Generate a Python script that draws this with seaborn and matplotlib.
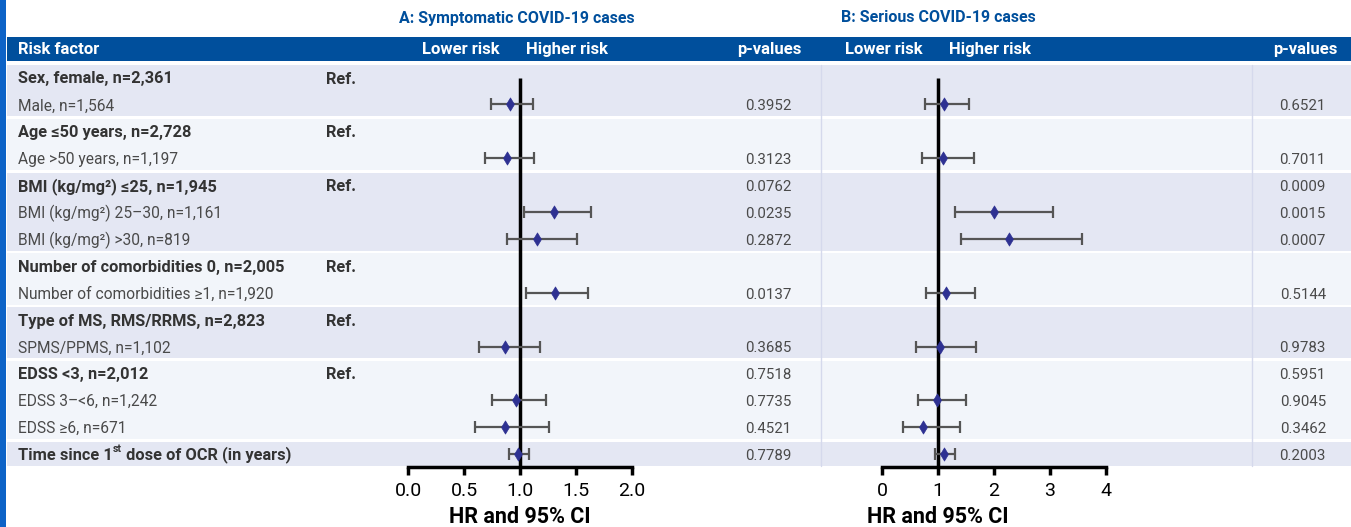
import numpy as np
import pandas as pd
import matplotlib.pyplot as plt
import seaborn as sns
from matplotlib.patches import Rectangle

sns.set_theme(style='white')
plt.rcParams['font.family'] = ['Roboto', 'DejaVu Sans']

# ---- data -------------------------------------------------------------
labels = ['Sex, female, n=2,361', 'Male, n=1,564',
          'Age \u226450 years, n=2,728', 'Age >50 years, n=1,197',
          'BMI (kg/mg\u00b2) \u226425, n=1,945', 'BMI (kg/mg\u00b2) 25\u201330, n=1,161',
          'BMI (kg/mg\u00b2) >30, n=819',
          'Number of comorbidities 0, n=2,005', 'Number of comorbidities \u22651, n=1,920',
          'Type of MS, RMS/RRMS, n=2,823', 'SPMS/PPMS, n=1,102',
          'EDSS <3, n=2,012', 'EDSS 3\u2013<6, n=1,242', 'EDSS \u22656, n=671',
          'Time since 1|st| dose of OCR (in years)']
bold = [1, 0, 1, 0, 1, 0, 0, 1, 0, 1, 0, 1, 0, 0, 1]
is_ref = [1, 0, 1, 0, 1, 0, 0, 1, 0, 1, 0, 1, 0, 0, 0]
group = [0, 0, 1, 1, 2, 2, 2, 3, 3, 4, 4, 5, 5, 5, 6]

nan = np.nan
hr_a = [nan, 0.91, nan, 0.88, nan, 1.30, 1.15, nan, 1.31, nan, 0.87, nan, 0.96, 0.87, 0.985]
lo_a = [nan, 0.74, nan, 0.69, nan, 1.04, 0.88, nan, 1.05, nan, 0.63, nan, 0.75, 0.60, 0.90]
hi_a = [nan, 1.12, nan, 1.125, nan, 1.63, 1.51, nan, 1.61, nan, 1.18, nan, 1.23, 1.26, 1.08]
p_a = ['', '0.3952', '', '0.3123', '0.0762', '0.0235', '0.2872', '', '0.0137', '',
       '0.3685', '0.7518', '0.7735', '0.4521', '0.7789']

hr_b = [nan, 1.11, nan, 1.09, nan, 2.00, 2.26, nan, 1.14, nan, 1.04, nan, 0.98, 0.73, 1.11]
lo_b = [nan, 0.76, nan, 0.71, nan, 1.30, 1.41, nan, 0.79, nan, 0.60, nan, 0.64, 0.37, 0.95]
hi_b = [nan, 1.55, nan, 1.64, nan, 3.05, 3.58, nan, 1.66, nan, 1.68, nan, 1.50, 1.39, 1.30]
p_b = ['', '0.6521', '', '0.7011', '0.0009', '0.0015', '0.0007', '', '0.5144', '',
       '0.9783', '0.5951', '0.9045', '0.3462', '0.2003']

ticks_a = [0.0, 0.5, 1.0, 1.5, 2.0]
ticks_b = [0, 1, 2, 3, 4]

# ---- layout (pixel coordinates) ---------------------------------------
W, H = 1351, 527
row_y = 77.5 + 26.9 * np.arange(len(labels))
axis_y = 467
NAVY = '#004f9c'

fig = plt.figure(figsize=(W / 100, H / 100), dpi=100)
bg = fig.add_axes([0, 0, 1, 1])
bg.set_xlim(0, W)
bg.set_ylim(H, 0)
bg.axis('off')

# left strip + header band
bg.add_patch(Rectangle((0, 0), 6, H, color='#0d63c7', lw=0))
bg.add_patch(Rectangle((7, 37), W - 7, 24, color=NAVY, lw=0))

# group backgrounds
for g in sorted(set(group)):
    idx = [i for i, gg in enumerate(group) if gg == g]
    top = row_y[idx[0]] - 12.5
    bot = row_y[idx[-1]] + 11.8
    col = '#e4e7f3' if g % 2 == 0 else '#f2f5fa'
    bg.add_patch(Rectangle((7, top), W - 7, bot - top, color=col, lw=0))
for xs in (821, 1252):
    bg.plot([xs, xs], [row_y[0] - 12.5, row_y[-1] + 11.8], color='#d5d9ec', lw=1)

# titles and header
bg.text(517, 18, 'A: Symptomatic COVID-19 cases', color=NAVY, fontsize=11.5,
        fontweight='bold', ha='center', va='center')
bg.text(938, 18, 'B: Serious COVID-19 cases', color=NAVY, fontsize=11.5,
        fontweight='bold', ha='center', va='center')
hdr = dict(color='white', fontsize=12, fontweight='bold', va='center')
bg.text(18, 49.5, 'Risk factor', ha='left', **hdr)
bg.text(500, 49.5, 'Lower risk', ha='right', **hdr)
bg.text(526, 49.5, 'Higher risk', ha='left', **hdr)
bg.text(801, 49.5, 'p-values', ha='right', **hdr)
bg.text(923, 49.5, 'Lower risk', ha='right', **hdr)
bg.text(949, 49.5, 'Higher risk', ha='left', **hdr)
bg.text(1337, 49.5, 'p-values', ha='right', **hdr)

# row labels
for i, lab in enumerate(labels):
    w = 'bold' if bold[i] else 'normal'
    c = '#333333' if bold[i] else '#4a4a4a'
    fs = 11.8 if bold[i] else 11.2
    if '|' in lab:
        a, sup, b = lab.split('|')
        t1 = bg.text(18, row_y[i] + 6, a, fontsize=fs, fontweight=w, color=c,
                     ha='left', va='baseline')
        t2 = bg.annotate(sup, xy=(1, 0.62), xycoords=t1, fontsize=7.5, fontweight=w,
                         color=c, ha='left', va='bottom')
        bg.annotate(b, xy=(1, 0), xycoords=(t2, t1), fontsize=fs, fontweight=w,
                    color=c, ha='left', va='bottom')
    else:
        bg.text(18, row_y[i] + 6, lab, fontsize=fs, fontweight=w, color=c,
                ha='left', va='baseline')
    if is_ref[i]:
        bg.text(326, row_y[i] + 6, 'Ref.', fontsize=11.8, fontweight='bold',
                color='#333333', ha='left', va='baseline')
    bg.text(791, row_y[i] + 6, p_a[i], fontsize=10.8, color='#4a4a4a',
            ha='right', va='baseline')
    bg.text(1326, row_y[i] + 6, p_b[i], fontsize=10.8, color='#4a4a4a',
            ha='right', va='baseline')


def forest(left_px, right_px, hr, lo, hi, ticks, ticklabels, label_x):
    ax = fig.add_axes([left_px / W, (H - axis_y) / H,
                       (right_px - left_px) / W, (axis_y - 65) / H])
    ax.patch.set_alpha(0)
    df = pd.DataFrame({'hr': hr, 'lo': lo, 'hi': hi, 'y': row_y}).dropna()
    ax.vlines(1, row_y[0], axis_y, color='black', lw=2.5, zorder=2)
    ax.errorbar(df['hr'], df['y'], xerr=[df['hr'] - df['lo'], df['hi'] - df['hr']],
                fmt='none', ecolor='#555555', elinewidth=1.6, capsize=4.5,
                capthick=1.6, zorder=3)
    sns.scatterplot(data=df, x='hr', y='y', marker='d', s=45, color='#2e3192',
                    edgecolor='#2e3192', linewidth=0.5, zorder=4, ax=ax)
    ax.set_xlim(ticks[0], ticks[-1])
    ax.set_ylim(axis_y, 65)
    ax.set_xticks(ticks)
    ax.set_xticklabels(ticklabels)
    ax.set_yticks([])
    ax.set_ylabel('')
    for s in ('top', 'left', 'right'):
        ax.spines[s].set_visible(False)
    ax.spines['bottom'].set_linewidth(2.5)
    ax.spines['bottom'].set_color('black')
    ax.spines['bottom'].set_capstyle('projecting')
    ax.tick_params(axis='x', direction='out', length=6, width=2.5, pad=5,
                   labelsize=14, colors='black', bottom=True)
    ax.set_xlabel('HR and 95% CI', fontsize=15.5, fontweight='bold', color='black')
    ax.xaxis.label.set_va('center')
    ax.xaxis.set_label_coords(label_x, -(517 - axis_y) / (axis_y - 65))
    return ax


forest(408, 632, hr_a, lo_a, hi_a, ticks_a, [f'{t:.1f}' for t in ticks_a], 0.5)
forest(882, 1106, hr_b, lo_b, hi_b, ticks_b, [str(t) for t in ticks_b], 0.25)

fig.savefig('out.png', dpi=100)
